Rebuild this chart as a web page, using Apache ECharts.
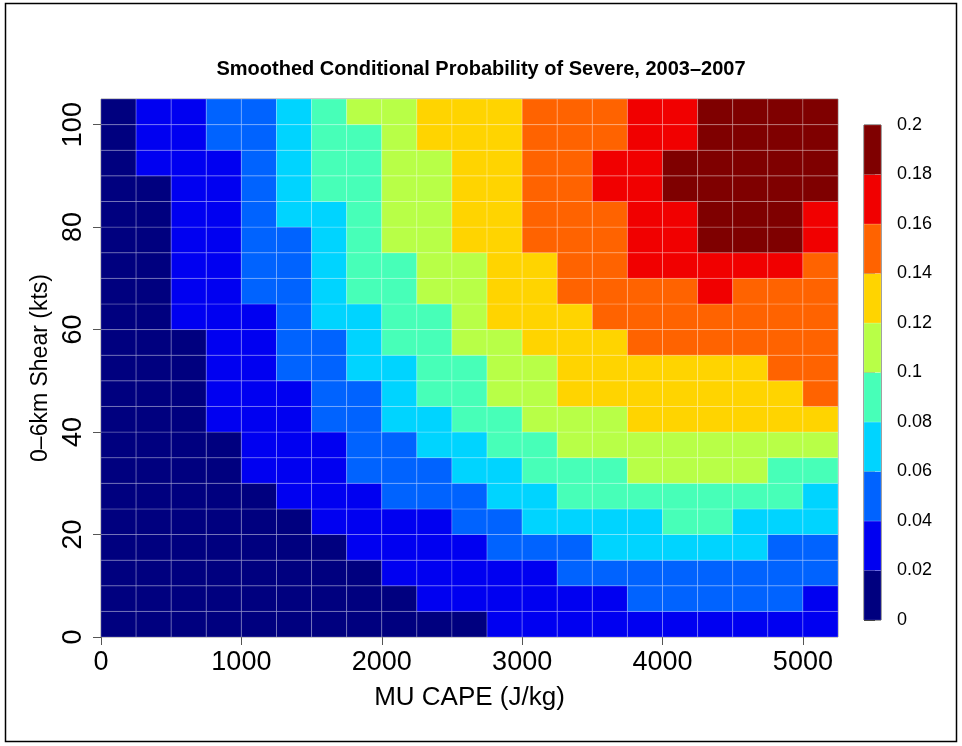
<!DOCTYPE html>
<html><head><meta charset="utf-8">
<script src="https://cdn.jsdelivr.net/npm/echarts@6/dist/echarts.min.js"></script>
<style>html,body{margin:0;padding:0;background:#fff}#c{width:962px;height:746px}</style>
</head><body><div id="c"></div>
<script>
// MU CAPE bin edges (J/kg) and 0-6km shear bin edges (kts)
const capeEdges = [0,250,500,750,1000,1250,1500,1750,2000,2250,2500,2750,3000,3250,3500,3750,4000,4250,4500,4750,5000,5250];
const shearEdges = [0,5,10,15,20,25,30,35,40,45,50,55,60,65,70,75,80,85,90,95,100,105];
// colour-bar levels and colours
const levels = [0,0.02,0.04,0.06,0.08,0.1,0.12,0.14,0.16,0.18,0.2];
const levelColors = ['#00007F','#0000F1','#0063FF','#00D4FF','#47FFB8','#B8FF47','#FFD400','#FF6300','#F10000','#7F0000'];
// smoothed conditional probability, one row per shear bin (bottom row first: 0-5 kts)
const prob = [
 [.01,.01,.01,.01,.01,.01,.01,.01,.01,.01,.01,.03,.03,.03,.03,.03,.03,.03,.03,.03,.03], // 0-5
 [.01,.01,.01,.01,.01,.01,.01,.01,.01,.03,.03,.03,.03,.03,.03,.05,.05,.05,.05,.05,.03], // 5-10
 [.01,.01,.01,.01,.01,.01,.01,.01,.03,.03,.03,.03,.03,.05,.05,.05,.05,.05,.05,.05,.05], // 10-15
 [.01,.01,.01,.01,.01,.01,.01,.03,.03,.03,.03,.05,.05,.05,.07,.07,.07,.07,.07,.05,.05], // 15-20
 [.01,.01,.01,.01,.01,.01,.03,.03,.03,.03,.05,.05,.07,.07,.07,.07,.09,.09,.07,.07,.07], // 20-25
 [.01,.01,.01,.01,.01,.03,.03,.03,.05,.05,.05,.07,.07,.09,.09,.09,.09,.09,.09,.09,.07], // 25-30
 [.01,.01,.01,.01,.03,.03,.03,.05,.05,.05,.07,.07,.09,.09,.09,.11,.11,.11,.11,.09,.09], // 30-35
 [.01,.01,.01,.01,.03,.03,.03,.05,.05,.07,.07,.09,.09,.11,.11,.11,.11,.11,.11,.11,.11], // 35-40
 [.01,.01,.01,.03,.03,.03,.05,.05,.07,.07,.09,.09,.11,.11,.11,.13,.13,.13,.13,.13,.13], // 40-45
 [.01,.01,.01,.03,.03,.03,.05,.05,.07,.09,.09,.11,.11,.13,.13,.13,.13,.13,.13,.13,.15], // 45-50
 [.01,.01,.01,.03,.03,.05,.05,.07,.07,.09,.09,.11,.11,.13,.13,.13,.13,.13,.13,.15,.15], // 50-55
 [.01,.01,.01,.03,.03,.05,.05,.07,.09,.09,.11,.11,.13,.13,.13,.15,.15,.15,.15,.15,.15], // 55-60
 [.01,.01,.03,.03,.03,.05,.07,.07,.09,.09,.11,.13,.13,.13,.15,.15,.15,.15,.15,.15,.15], // 60-65
 [.01,.01,.03,.03,.05,.05,.07,.09,.09,.11,.11,.13,.13,.15,.15,.15,.15,.17,.15,.15,.15], // 65-70
 [.01,.01,.03,.03,.05,.05,.07,.09,.09,.11,.11,.13,.13,.15,.15,.17,.17,.17,.17,.17,.15], // 70-75
 [.01,.01,.03,.03,.05,.05,.07,.09,.11,.11,.13,.13,.15,.15,.15,.17,.17,.19,.19,.19,.17], // 75-80
 [.01,.01,.03,.03,.05,.07,.07,.09,.11,.11,.13,.13,.15,.15,.15,.17,.17,.19,.19,.19,.17], // 80-85
 [.01,.01,.03,.03,.05,.07,.09,.09,.11,.11,.13,.13,.15,.15,.17,.17,.19,.19,.19,.19,.19], // 85-90
 [.01,.03,.03,.03,.05,.07,.09,.09,.11,.11,.13,.13,.15,.15,.17,.17,.19,.19,.19,.19,.19], // 90-95
 [.01,.03,.03,.05,.05,.07,.09,.09,.11,.13,.13,.13,.15,.15,.15,.17,.17,.19,.19,.19,.19], // 95-100
 [.01,.03,.03,.05,.05,.07,.09,.11,.11,.13,.13,.13,.15,.15,.15,.17,.17,.19,.19,.19,.19]  // 100-105
];

const cells = [];
prob.forEach((row, r) => row.forEach((v, c) => {
  cells.push([capeEdges[c], shearEdges[r], capeEdges[c+1], shearEdges[r+1], v]);
}));
const barCells = [];
for (let i = 0; i < levelColors.length; i++) {
  barCells.push([0, levels[i], 1, levels[i+1], (levels[i] + levels[i+1]) / 2]);
}

function rectItem(stroke) {
  return function (params, api) {
    const p0 = api.coord([api.value(0), api.value(1)]);
    const p1 = api.coord([api.value(2), api.value(3)]);
    return {
      type: 'rect',
      shape: { x: p0[0], y: p1[1], width: p1[0] - p0[0], height: p0[1] - p1[1] },
      style: { fill: api.visual('color'), stroke: stroke, lineWidth: 1 }
    };
  };
}

const FONT = 'Liberation Sans';
const chart = echarts.init(document.getElementById('c'));
chart.setOption({
  backgroundColor: '#fff',
  animation: false,
  title: {
    text: 'Smoothed Conditional Probability of Severe, 2003\u20132007',
    left: 'center', top: 54,
    textStyle: { fontFamily: FONT, fontWeight: 'bold', fontSize: 20, color: '#000' }
  },
  graphic: [{
    type: 'rect', silent: true,
    shape: { x: 5.5, y: 3.5, width: 951, height: 738 },
    style: { fill: 'none', stroke: '#000', lineWidth: 1.5 }
  }],
  grid: [
    { left: 101, top: 99, width: 737, height: 538, show: true, borderColor: 'rgba(0,0,0,0.45)', borderWidth: 1, backgroundColor: 'transparent' },
    { left: 864, top: 125, width: 17, height: 495, show: true, borderColor: '#333', borderWidth: 1, backgroundColor: 'transparent' }
  ],
  xAxis: [{
    type: 'value', gridIndex: 0, min: 0, max: 5250, interval: 1000,
    axisLine: { show: false },
    axisTick: { show: true, length: 8, lineStyle: { color: '#555' } },
    axisLabel: { fontFamily: FONT, fontSize: 27, color: '#000', margin: 12, lineHeight: 27,
      formatter: v => String(v) },
    splitLine: { show: false },
    name: 'MU CAPE (J/kg)', nameLocation: 'middle', nameGap: 48,
    nameTextStyle: { fontFamily: FONT, fontSize: 26, color: '#000' }
  }, {
    type: 'value', gridIndex: 1, min: 0, max: 1, show: false
  }],
  yAxis: [{
    type: 'value', gridIndex: 0, min: 0, max: 105, interval: 20,
    axisLine: { show: false },
    axisTick: { show: true, length: 8, lineStyle: { color: '#555' } },
    axisLabel: { fontFamily: FONT, fontSize: 27, color: '#000', rotate: 90, margin: 14, lineHeight: 27,
      formatter: v => String(v) },
    splitLine: { show: false },
    name: '0\u20136km Shear (kts)', nameLocation: 'middle', nameGap: 47, nameRotate: 90,
    nameTextStyle: { fontFamily: FONT, fontSize: 23, color: '#000' }
  }, {
    type: 'value', gridIndex: 1, position: 'right', min: 0, max: 0.2, interval: 0.02,
    axisLine: { show: false },
    axisTick: { show: true, length: 11, lineStyle: { color: '#333' } },
    axisLabel: { fontFamily: FONT, fontSize: 18, color: '#000', margin: 16,
      formatter: v => String(+v.toFixed(2)) },
    splitLine: { show: false }
  }],
  visualMap: {
    type: 'piecewise', show: false, dimension: 4, seriesIndex: [0, 1],
    pieces: levelColors.map((c, i) => ({ gte: levels[i], lt: levels[i+1], color: c }))
  },
  series: [{
    type: 'custom', xAxisIndex: 0, yAxisIndex: 0,
    renderItem: rectItem('rgba(255,255,255,0.22)'),
    encode: { x: [0, 2], y: [1, 3] },
    data: cells
  }, {
    type: 'custom', xAxisIndex: 1, yAxisIndex: 1,
    renderItem: rectItem('rgba(255,255,255,0.18)'),
    encode: { x: [0, 2], y: [1, 3] },
    data: barCells
  }]
});
</script>
</body></html>
